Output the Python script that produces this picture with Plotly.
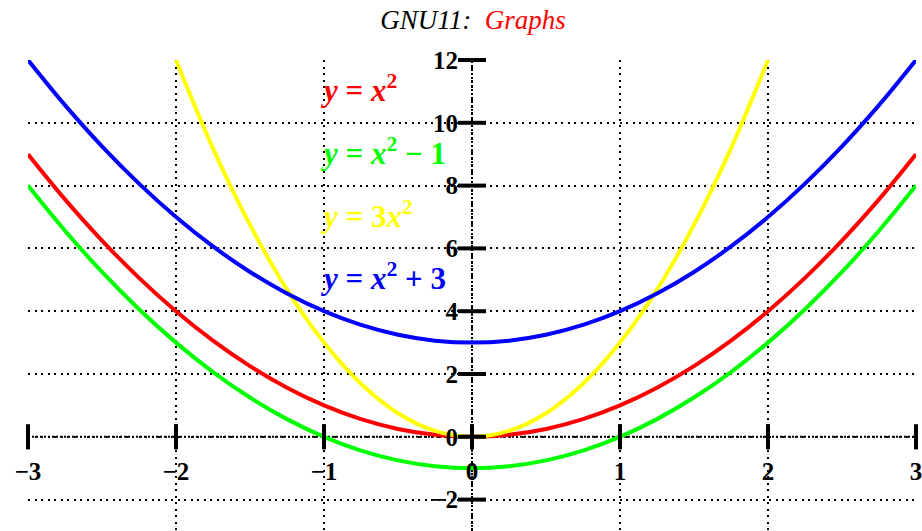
import plotly.graph_objects as go

# Sample points along x and the values of each plotted function
x_vals = [-3.0, -2.75, -2.5, -2.25, -2.0, -1.75, -1.5, -1.25, -1.0, -0.75, -0.5, -0.25,
          0.0, 0.25, 0.5, 0.75, 1.0, 1.25, 1.5, 1.75, 2.0, 2.25, 2.5, 2.75, 3.0]
y_sq = [9.0, 7.5625, 6.25, 5.0625, 4.0, 3.0625, 2.25, 1.5625, 1.0, 0.5625, 0.25, 0.0625,
        0.0, 0.0625, 0.25, 0.5625, 1.0, 1.5625, 2.25, 3.0625, 4.0, 5.0625, 6.25, 7.5625, 9.0]
y_sq_minus1 = [8.0, 6.5625, 5.25, 4.0625, 3.0, 2.0625, 1.25, 0.5625, 0.0, -0.4375, -0.75, -0.9375,
               -1.0, -0.9375, -0.75, -0.4375, 0.0, 0.5625, 1.25, 2.0625, 3.0, 4.0625, 5.25, 6.5625, 8.0]
y_sq_plus3 = [12.0, 10.5625, 9.25, 8.0625, 7.0, 6.0625, 5.25, 4.5625, 4.0, 3.5625, 3.25, 3.0625,
              3.0, 3.0625, 3.25, 3.5625, 4.0, 4.5625, 5.25, 6.0625, 7.0, 8.0625, 9.25, 10.5625, 12.0]
x_triple = [-2.0, -1.75, -1.5, -1.25, -1.0, -0.75, -0.5, -0.25, 0.0,
            0.25, 0.5, 0.75, 1.0, 1.25, 1.5, 1.75, 2.0]
y_triple = [12.0, 9.1875, 6.75, 4.6875, 3.0, 1.6875, 0.75, 0.1875, 0.0,
            0.1875, 0.75, 1.6875, 3.0, 4.6875, 6.75, 9.1875, 12.0]

# Axis extents and ticks
x_range = [-3, 3]
y_range = [-3, 12]
x_ticks = [-3, -2, -1, 0, 1, 2, 3]
x_tick_text = ["\u22123", "\u22122", "\u22121", "0", "1", "2", "3"]
y_ticks = [-2, 0, 2, 4, 6, 8, 10, 12]
y_tick_text = ["\u22122", "0", "2", "4", "6", "8", "10", "12"]

# Curve labels
labels = [
    ("<b><i>y</i> = <i>x</i><sup>2</sup></b>", "#ff0000", 11),
    ("<b><i>y</i> = <i>x</i><sup>2</sup> \u2212 1</b>", "#00ff00", 9),
    ("<b><i>y</i> = 3<i>x</i><sup>2</sup></b>", "#ffff00", 7),
    ("<b><i>y</i> = <i>x</i><sup>2</sup> + 3</b>", "#0000ff", 5),
]
label_x = -1

SERIF = "Liberation Serif"

fig = go.Figure()

curves = [
    (x_vals, y_sq, "#ff0000"),
    (x_vals, y_sq_minus1, "#00ff00"),
    (x_triple, y_triple, "#ffff00"),
    (x_vals, y_sq_plus3, "#0000ff"),
]
for xs, ys, col in curves:
    fig.add_trace(go.Scatter(x=xs, y=ys, mode="lines",
                             line=dict(color=col, width=4, shape="spline"),
                             showlegend=False, hoverinfo="skip"))

# Tick marks crossing the central axes
fig.add_trace(go.Scatter(x=x_ticks, y=[0] * len(x_ticks), mode="markers",
                         marker=dict(symbol="line-ns", size=18,
                                     line=dict(color="black", width=4)),
                         cliponaxis=False, showlegend=False, hoverinfo="skip"))
fig.add_trace(go.Scatter(x=[0] * len(y_ticks), y=y_ticks, mode="markers",
                         marker=dict(symbol="line-ew", size=20,
                                     line=dict(color="black", width=4)),
                         cliponaxis=False, showlegend=False, hoverinfo="skip"))

# Central axis lines (dotted)
fig.add_shape(type="line", x0=x_range[0], x1=x_range[1], y0=0, y1=0,
              xref="x", yref="y", layer="below",
              line=dict(color="black", width=2, dash="2px,2px"))
fig.add_shape(type="line", x0=0, x1=0, y0=y_range[0], y1=y_range[1],
              xref="x", yref="y", layer="below",
              line=dict(color="black", width=2, dash="2px,2px"))

for text, col, yv in labels:
    fig.add_annotation(x=label_x, y=yv, xref="x", yref="y", text=text,
                       showarrow=False, xanchor="left", yanchor="middle",
                       xshift=-6, yshift=3,
                       font=dict(family=SERIF, size=31, color=col))

x_pos = (0 - y_range[0]) / (y_range[1] - y_range[0])
y_pos = (0 - x_range[0]) / (x_range[1] - x_range[0])

tick_font = dict(family=SERIF, size=25, color="black", weight="bold")

fig.update_layout(
    width=922, height=531,
    margin=dict(l=28, r=4, t=60, b=0),
    paper_bgcolor="white", plot_bgcolor="white",
    title=dict(text="<i>GNU11:</i>  <i><span style='color:#ff0000'>Graphs</span></i>",
               x=0.513, xanchor="center", y=1 - 20 / 531, yanchor="middle",
               font=dict(family=SERIF, size=27, color="black")),
    xaxis=dict(range=x_range, tickvals=x_ticks, ticktext=x_tick_text,
               anchor="free", position=x_pos, showline=False, zeroline=False,
               ticks="", ticklabelstandoff=17, ticklabeloverflow="allow",
               showgrid=True, gridcolor="black", gridwidth=1.5, griddash="2px,4.5px",
               tickfont=tick_font, fixedrange=True),
    yaxis=dict(range=y_range, tickvals=y_ticks, ticktext=y_tick_text,
               anchor="free", position=y_pos, showline=False, zeroline=False,
               ticks="", ticklabelstandoff=14, ticklabeloverflow="allow",
               showgrid=True, gridcolor="black", gridwidth=1.5, griddash="2px,4.5px",
               tickfont=tick_font, fixedrange=True),
)

fig.write_html("out.html")
